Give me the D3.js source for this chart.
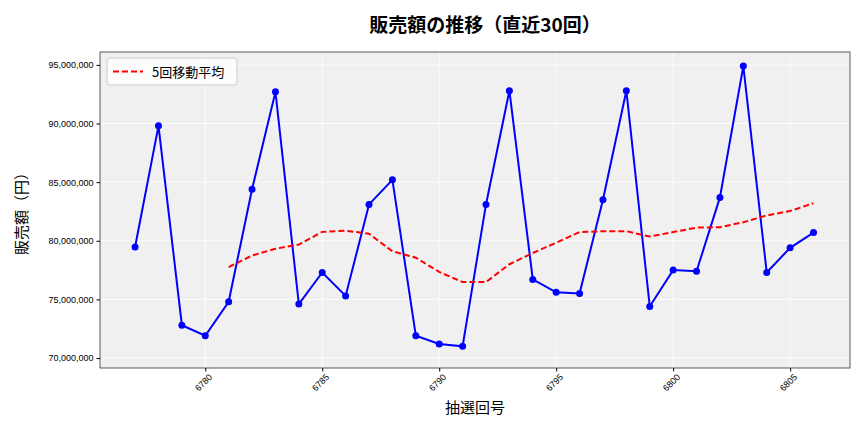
<!DOCTYPE html>
<html><head><meta charset="utf-8">
<script src="https://cdn.jsdelivr.net/npm/d3@7"></script>
<style>body{margin:0;background:#fff;font-family:"Noto Sans CJK JP","Noto Sans",sans-serif}</style>
</head><body><svg id="c" width="864" height="432"></svg>
<script>
const draws = d3.range(6777, 6807);
const sales = [79.47,89.8,72.8,71.9,74.8,84.4,92.7,74.6,77.3,75.3,83.1,85.2,71.9,71.2,71.0,83.1,92.8,76.7,75.6,75.5,83.5,92.8,74.4,77.5,77.4,83.7,94.9,77.3,79.4,80.7].map(v => v * 1e6);
const xTicks = [6780, 6785, 6790, 6795, 6800, 6805];
const yTicks = [70e6, 75e6, 80e6, 85e6, 90e6, 95e6];

// 5回移動平均
const ma = sales.map((v, i) => i < 4 ? null : d3.mean(sales.slice(i - 4, i + 1)));

const svg = d3.select("#c");
const L = 100, R = 850, T = 52, B = 368;
const x = d3.scaleLinear().domain([6775.5, 6807.56]).range([L, R]);
const y = d3.scaleLinear().domain([69.15e6, 96.1e6]).range([B, T]);

svg.append("rect").attr("x", L).attr("y", T).attr("width", R - L).attr("height", B - T).attr("fill", "#f0f0f0");
const grid = svg.append("g").attr("stroke", "#fff").attr("stroke-width", 0.8);
xTicks.forEach(t => grid.append("line").attr("x1", x(t)).attr("x2", x(t)).attr("y1", T).attr("y2", B));
yTicks.forEach(t => grid.append("line").attr("y1", y(t)).attr("y2", y(t)).attr("x1", L).attr("x2", R));
svg.append("rect").attr("x", L).attr("y", T).attr("width", R - L).attr("height", B - T).attr("fill", "none").attr("stroke", "#333").attr("stroke-width", 0.8);

const fmt = d3.format(",");
const ya = svg.append("g").attr("transform", `translate(${L},0)`).call(d3.axisLeft(y).tickValues(yTicks).tickFormat(fmt).tickSize(3.5));
ya.select(".domain").remove();
ya.selectAll("text").attr("font-size", 9).attr("fill", "#000");
const xa = svg.append("g").attr("transform", `translate(0,${B})`).call(d3.axisBottom(x).tickValues(xTicks).tickFormat(d => d).tickSize(3.5));
xa.select(".domain").remove();
xa.selectAll("text").attr("font-size", 9).attr("fill", "#000")
  .attr("text-anchor", "end").attr("transform", "rotate(-45)").attr("dx", "-0.2em").attr("dy", "0.6em");

svg.append("path").datum(sales).attr("fill", "none").attr("stroke", "#0000ff").attr("stroke-width", 2)
  .attr("d", d3.line().x((d, i) => x(draws[i])).y(d => y(d)));
svg.selectAll("circle.p").data(sales).join("circle").attr("cx", (d, i) => x(draws[i])).attr("cy", d => y(d)).attr("r", 3.5).attr("fill", "#0000ff");
svg.append("path").datum(ma).attr("fill", "none").attr("stroke", "#ff0000").attr("stroke-width", 2).attr("stroke-dasharray", "6,3")
  .attr("d", d3.line().defined(d => d != null).x((d, i) => x(draws[i])).y(d => y(d)));

svg.append("text").attr("x", (L + R) / 2 + 10).attr("y", 32).attr("text-anchor", "middle").attr("font-size", 19).attr("font-weight", "bold").text("販売額の推移（直近30回）");
svg.append("text").attr("x", (L + R) / 2).attr("y", 413).attr("text-anchor", "middle").attr("font-size", 15).text("抽選回号");
svg.append("text").attr("transform", `translate(27,${(T + B) / 2}) rotate(-90)`).attr("text-anchor", "middle").attr("font-size", 15).text("販売額（円）");

const lg = svg.append("g").attr("transform", `translate(${L + 7},${T + 6})`);
lg.append("rect").attr("width", 130).attr("height", 27).attr("rx", 3).attr("fill", "#fff").attr("fill-opacity", 0.8).attr("stroke", "#ccc");
lg.append("line").attr("x1", 6).attr("x2", 36).attr("y1", 13.5).attr("y2", 13.5).attr("stroke", "#ff0000").attr("stroke-width", 2).attr("stroke-dasharray", "6,3");
lg.append("text").attr("x", 45).attr("y", 18.5).attr("font-size", 13).text("5回移動平均");
</script></body></html>
